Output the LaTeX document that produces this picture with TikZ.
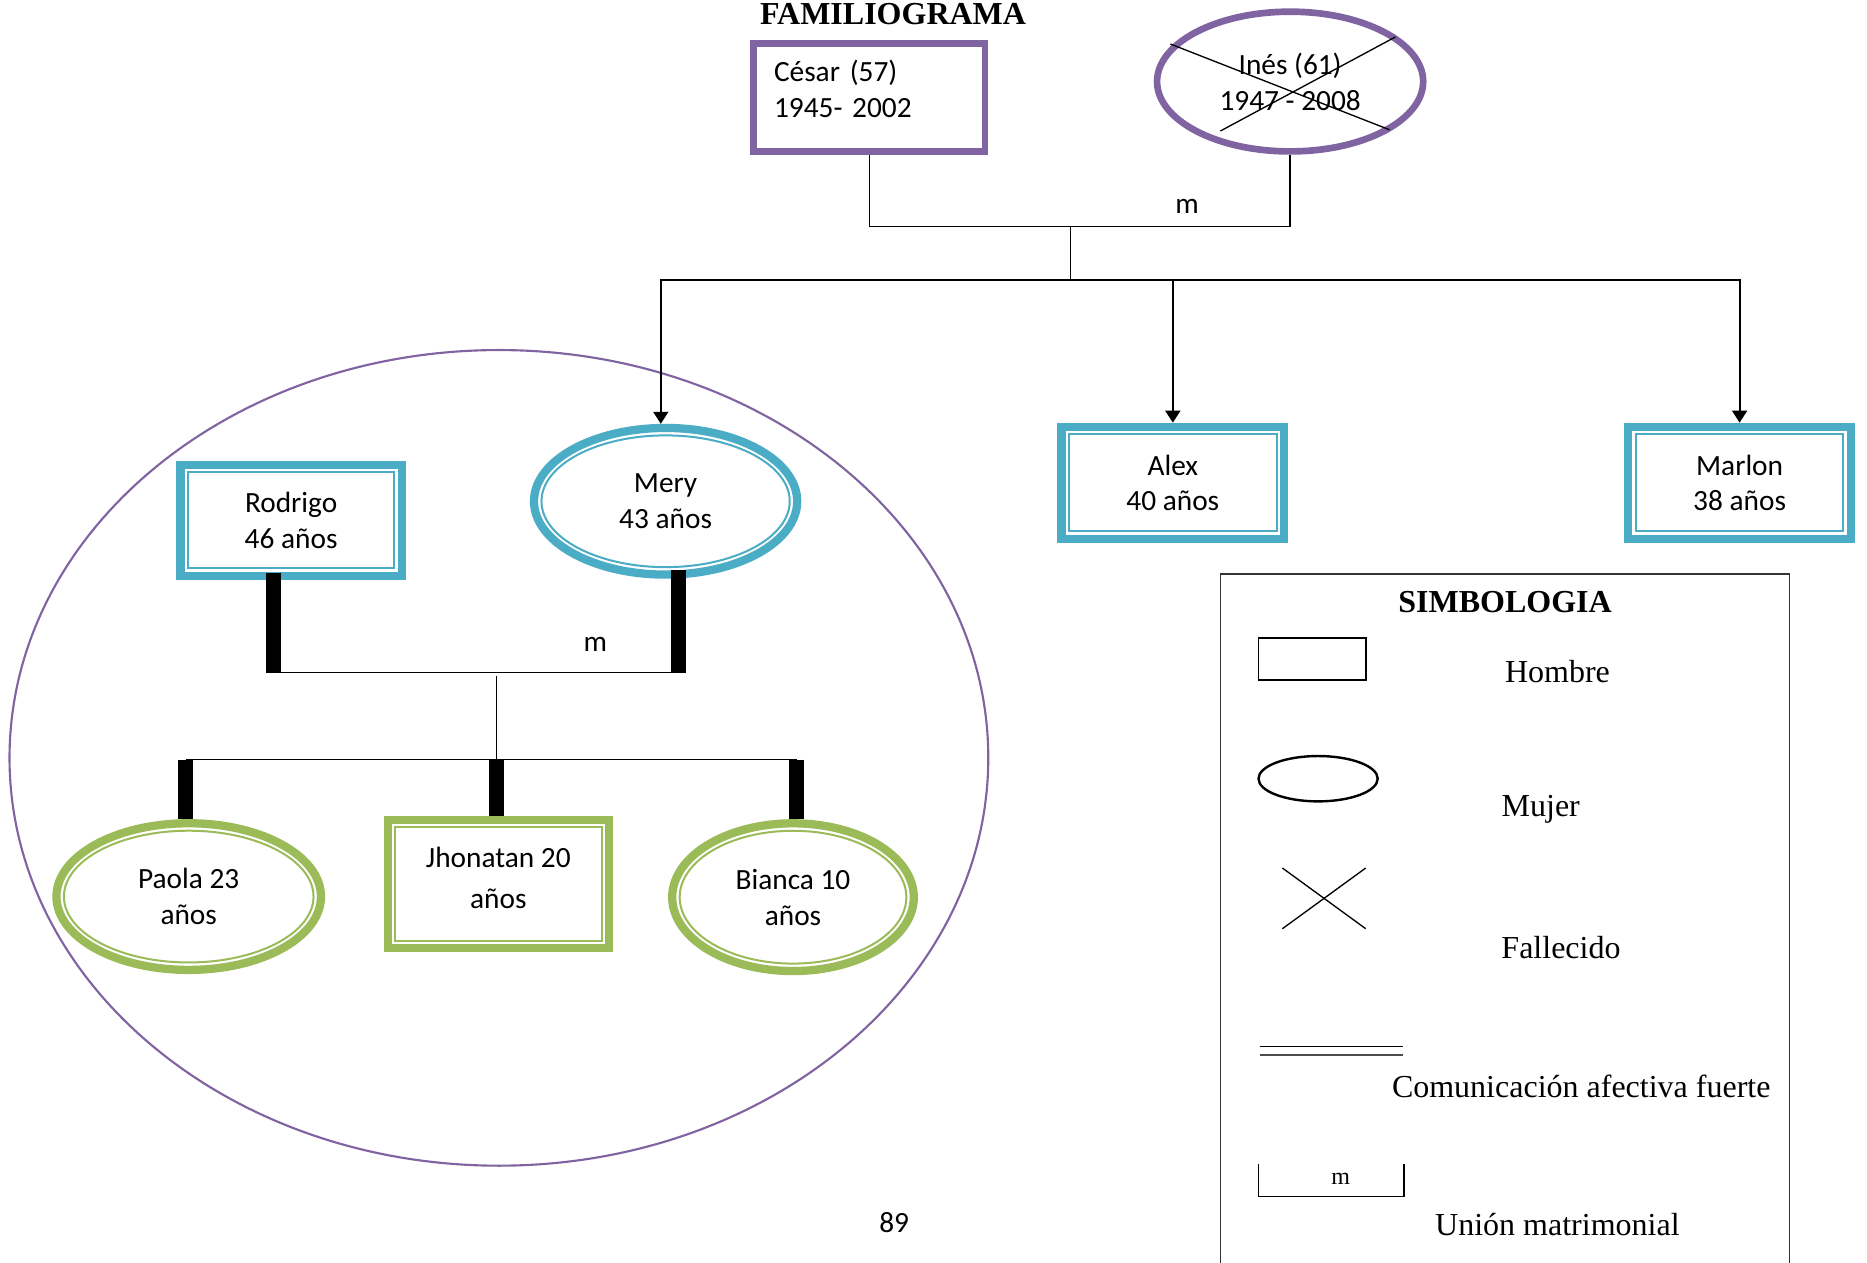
\documentclass[tikz,border=0pt]{standalone}
\usepackage{fontspec}
\setmainfont{Carlito}
\newfontfamily\romana{Liberation Serif}
\usetikzlibrary{arrows.meta,shapes.geometric,calc}
\definecolor{mPurple}{HTML}{8064A2}
\definecolor{mAqua}{HTML}{4BACC6}
\definecolor{mGreen}{HTML}{9BBB59}

\begin{document}
\begin{tikzpicture}[x=0.4465pt,y=-0.4465pt,
  txt/.style={font=\fontsize{11}{13.4}\selectfont,align=center},
  ley/.style={font=\romana\fontsize{12}{14}\selectfont},
  hombre/.style={txt,rectangle,draw=#1,line width=3.1pt,fill=white,inner sep=0pt,minimum width=83pt,minimum height=41.5pt,
    path picture={\draw[#1,line width=0.75pt] ([shift={(2.8pt,-2.8pt)}]path picture bounding box.north west) rectangle ([shift={(-2.8pt,2.8pt)}]path picture bounding box.south east);}},
  mujer/.style={txt,ellipse,draw=#1,line width=3.1pt,fill=white,inner sep=0pt,minimum width=98.7pt,minimum height=55pt,
    path picture={\draw[#1,line width=0.75pt] let \p1=(path picture bounding box.north east),\p2=(path picture bounding box.center) in (\p2) ellipse [x radius=\x1-\x2-2.8pt,y radius=\y1-\y2-2.8pt];}},
  union/.style={line width=0.5pt},
  flecha/.style={-{Triangle[width=5.6pt,length=4.5pt]},line width=0.7pt},
  barra/.style={line width=5.6pt},
  cruz/.style={line width=0.5pt}
]
\useasboundingbox (0,0) rectangle (1568,1060);
\draw[mPurple,line width=0.8pt] (419,636.5) ellipse [x radius=411,y radius=342.5];

\node[font=\romana\bfseries\fontsize{12}{14}\selectfont] (titulo) at (750,12) {FAMILIOGRAMA};
\node[txt,draw=mPurple,line width=2.5pt,minimum width=86.8pt,minimum height=40.4pt,text width=71.4pt,inner xsep=7.7pt,text depth=20pt,align=left] (cesar) at (730,82) {César (57)\\1945- 2002};
\node[txt,ellipse,draw=mPurple,line width=2.5pt,minimum width=99.8pt,minimum height=52.4pt,inner sep=0pt] (ines) at (1083.5,68.5) {Inés (61)\\1947 - 2008};
\draw[cruz] ([shift={(-100.5,-31.5)}]ines.center) -- ([shift={(83.5,40.5)}]ines.center);
\draw[cruz] ([shift={(88.5,-37.5)}]ines.center) -- ([shift={(-58.5,41.5)}]ines.center);

\node[hombre=mAqua] (rodrigo) at (244.5,437) {Rodrigo\\46 años};
\node[mujer=mAqua] (mery) at (559,421) {Mery\\43 años};
\node[hombre=mAqua,minimum width=83.5pt,minimum height=42pt] (alex) at (985,405.5) {Alex\\40 años};
\node[hombre=mAqua,minimum width=83.5pt,minimum height=42pt] (marlon) at (1461,405.5) {Marlon\\38 años};
\node[mujer=mGreen,minimum width=99.2pt] (paola) at (158.5,753) {Paola 23\\años};
\node[hombre=mGreen,minimum height=48.2pt,text depth=4.7pt] (jhonatan) at (418.5,742.5) {Jhonatan 20\\[2.2pt]años};
\node[mujer=mGreen,minimum width=90.6pt,minimum height=55.4pt] (bianca) at (666,753.5) {Bianca 10\\años};

\coordinate (u1) at (899,190);
\coordinate (h1) at (899,235);
\draw[union] (cesar.south) |- (u1) -| (ines.south);
\node[txt] (m1) at (997,173) {m};
\draw[union] (u1) -- (h1);
\draw[flecha] (h1) -| ([xshift=-1.8pt]mery.north);
\draw[flecha] (h1) -| (alex.north);
\draw[flecha] (h1) -| (marlon.north);

\coordinate (rb) at (230,565);
\coordinate (mb) at (570,565);
\coordinate (u2) at (417,568);
\coordinate (h2) at (417,638);
\coordinate (hp) at (156,638);
\coordinate (hb) at (669,638);
\draw[barra] (rodrigo.south -| rb) ++(0,-6) -- (rb);
\draw[barra] (mery.south -| mb) ++(0,-7) -- (mb);
\draw[union] (rb) -- (mb);
\node[txt] (m2) at (500,541) {m};
\draw[union] (u2) -- (h2);
\draw[union] (hp) -- (hb);
\draw[barra] (hp) -- (hp |- paola.north);
\draw[barra] (h2) -- (h2 |- jhonatan.north);
\draw[barra] (hb) -- (hb |- bianca.north);

\draw[line width=0.5pt,black!80] (1025,1062) |- (1503,482) -- (1503,1062);
\node[font=\romana\bfseries\fontsize{12}{14}\selectfont] (simb) at (1264,506) {SIMBOLOGIA};
\node[draw,line width=0.6pt,minimum width=40.2pt,minimum height=15.6pt,inner sep=0pt] (lhombre) at (1102,553.5) {};
\node[ley] (thombre) at (1308,564) {Hombre};
\node[draw,ellipse,line width=0.9pt,minimum width=44.7pt,minimum height=17pt,inner sep=0pt] (lmujer) at (1107,654) {};
\node[ley] (tmujer) at (1294,680) {Mujer};
\draw[cruz] (1077,729) -- (1147,780);
\draw[cruz] (1147,729) -- (1077,780);
\node[ley] (tfall) at (1311,796) {Fallecido};
\draw[line width=0.6pt] (1058,879) -- (1178,879);
\draw[line width=0.6pt,black!70] (1058,886) -- (1178,886);
\node[ley] (tcom) at (1328,912) {Comunicación afectiva fuerte};
\draw[union] (1057,978) |- (1179,1005) -- (1179,978);
\node[font=\romana\fontsize{9}{10}\selectfont] (lm) at (1126,990) {m};
\node[ley] (tunion) at (1308,1028) {Unión matrimonial};
\node[txt] (pag) at (751,1027) {89};
\end{tikzpicture}
\end{document}
